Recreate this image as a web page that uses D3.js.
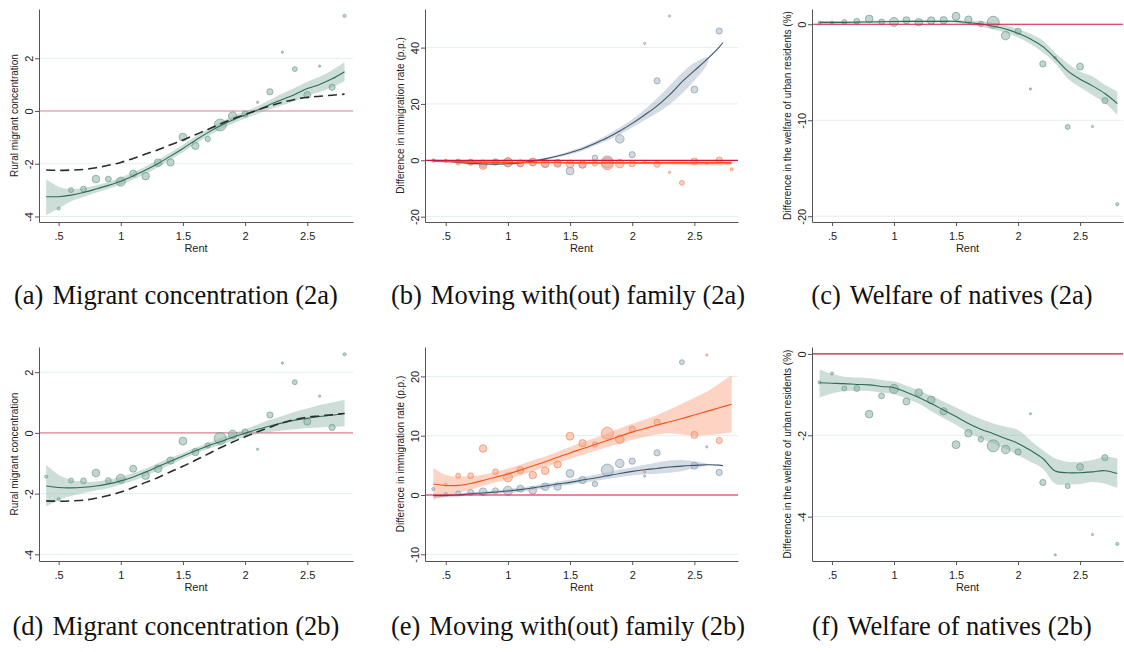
<!DOCTYPE html>
<html>
<head>
<meta charset="utf-8">
<script src="https://cdn.jsdelivr.net/npm/d3@7"></script>
<style>
body { margin: 0; background: #fff; }
svg { display: block; }
text { font-family: "Liberation Sans", Arial, sans-serif; fill: #222; }
.cap { font-family: "Liberation Serif", "Times New Roman", serif; font-size: 26.5px; fill: #111; }
</style>
</head>
<body>
<svg id="fig" width="1124" height="652"></svg>
<script>
// rent levels (x) and number of cities at each level (marker weight)
var rent   = [0.4, 0.5, 0.6, 0.7, 0.8, 0.9, 1.0, 1.1, 1.2, 1.3, 1.4, 1.5, 1.6, 1.7, 1.8, 1.9, 2.0, 2.1, 2.2, 2.3, 2.4, 2.5, 2.6, 2.7, 2.8];
var weight = [2, 2, 5, 7, 12, 7, 17, 10, 12, 12, 11, 13, 11, 6, 30, 15, 8, 1, 8, 1, 5, 10, 1, 8, 2];
var xTicks = [0.5, 1, 1.5, 2, 2.5];
var xTickLabels = ['.5', '1', '1.5', '2', '2.5'];

// benchmark (dashed) used in a and d
var benchmark = [-2.24, -2.25, -2.24, -2.22, -2.15, -2.06, -1.95, -1.80, -1.63, -1.47, -1.28, -1.10, -0.90, -0.70, -0.49, -0.30, -0.13, 0.04, 0.19, 0.33, 0.44, 0.52, 0.56, 0.60, 0.64];

// (a) migrant concentration 2a
var aPts = [null, -3.70, -3.00, -2.96, -2.58, -2.58, -2.68, -2.37, -2.47, -1.96, -1.95, -0.99, -1.32, -1.06, -0.53, -0.19, -0.11, 0.33, 0.73, 2.23, 1.59, 0.61, 1.70, 0.90, 3.61];
var aFit = [-3.25, -3.25, -3.19, -3.09, -2.96, -2.82, -2.66, -2.46, -2.24, -1.99, -1.71, -1.42, -1.11, -0.82, -0.56, -0.34, -0.15, 0.04, 0.25, 0.44, 0.63, 0.85, 1.01, 1.22, 1.49];
var aHi  = [-2.59, -2.87, -2.96, -2.92, -2.82, -2.69, -2.52, -2.32, -2.10, -1.85, -1.57, -1.28, -0.97, -0.68, -0.42, -0.20, -0.02, 0.18, 0.43, 0.66, 0.88, 1.11, 1.30, 1.55, 1.86];
var aLo  = [-3.95, -3.70, -3.42, -3.26, -3.10, -2.95, -2.80, -2.60, -2.38, -2.13, -1.85, -1.56, -1.25, -0.96, -0.70, -0.48, -0.28, -0.10, 0.07, 0.22, 0.38, 0.58, 0.72, 0.90, 1.14];

// (b) moving with(out) family 2a
var bBluePts = [0.0, -0.2, -0.4, -0.7, -1.2, -0.5, -0.7, -1.1, -0.6, -1.2, -0.9, -3.8, -1.5, 0.9, -0.6, 7.6, 2.0, 41.5, 28.2, 51.2, null, 25.1, null, 45.9, null];
var bBlueFitX = [0.4, 0.5, 0.6, 0.7, 0.8, 0.9, 1.0, 1.1, 1.2, 1.3, 1.4, 1.5, 1.6, 1.7, 1.8, 1.9, 2.0, 2.1, 2.2, 2.3, 2.4, 2.5, 2.6, 2.7, 2.73];
var bBlueFit = [0.0, -0.3, -0.7, -1.1, -1.3, -1.35, -1.2, -0.9, -0.3, 0.5, 1.5, 2.7, 4.1, 6.0, 8.0, 10.4, 13.1, 16.1, 19.3, 23.2, 27.8, 31.8, 35.8, 40.2, 41.8];
var bBlueBandX = [0.4, 0.5, 0.6, 0.7, 0.8, 0.9, 1.0, 1.1, 1.2, 1.3, 1.4, 1.5, 1.6, 1.7, 1.8, 1.9, 2.0, 2.1, 2.2, 2.3, 2.4, 2.5, 2.6, 2.62];
var bBlueHi = [0.4, 0.1, -0.3, -0.7, -0.9, -0.9, -0.8, -0.5, 0.1, 0.9, 2.0, 3.3, 4.8, 6.8, 9.0, 11.6, 14.6, 18.0, 22.0, 26.5, 31.0, 34.6, 36.6, 36.3];
var bBlueLo = [-0.4, -0.7, -1.1, -1.5, -1.7, -1.8, -1.6, -1.3, -0.7, 0.1, 1.0, 2.1, 3.4, 5.2, 7.0, 9.2, 11.6, 14.2, 16.8, 19.8, 23.6, 28.2, 33.8, 36.3];
var bOrangePts = [-0.2, -0.2, -0.8, -0.7, -1.9, -0.7, -0.7, -1.1, -0.6, -1.2, -1.2, -1.3, -1.5, -1.1, -1.2, -1.2, -1.2, -0.4, -1.4, -4.3, -8.0, -0.4, -1.1, 0.1, -3.2];
var bOrangeFit = [-0.3, -0.4, -0.5, -0.6, -0.7, -0.7, -0.8, -0.8, -0.8, -0.8, -0.8, -0.9, -0.9, -0.9, -0.9, -0.9, -0.9, -0.9, -0.9, -0.9, -0.9, -0.9, -0.9, -0.9, -0.9];
var bOrangeHi = [0.0, -0.1, -0.2, -0.3, -0.4, -0.4, -0.5, -0.5, -0.5, -0.5, -0.5, -0.6, -0.6, -0.6, -0.6, -0.6, -0.6, -0.5, -0.4, -0.3, -0.2, -0.1, 0.0, 0.0, 0.0];
var bOrangeLo = [-0.6, -0.7, -0.8, -0.9, -1.0, -1.0, -1.1, -1.1, -1.1, -1.1, -1.1, -1.2, -1.2, -1.2, -1.2, -1.2, -1.2, -1.3, -1.4, -1.5, -1.6, -1.7, -1.8, -1.8, -1.8];

// (c) welfare of natives 2a
var cPts = [0.17, 0.17, 0.24, 0.31, 0.56, 0.24, 0.24, 0.42, 0.21, 0.38, 0.42, 0.83, 0.49, 0.03, 0.21, -1.18, -0.73, -6.74, -4.13, -3.47, -10.7, -4.41, -10.66, -7.95, -18.75];
var cFit = [0.2, 0.2, 0.2, 0.22, 0.24, 0.26, 0.28, 0.3, 0.3, 0.3, 0.3, 0.3, 0.17, 0.03, -0.2, -0.49, -0.94, -1.53, -2.33, -3.54, -4.86, -5.73, -6.42, -7.22, -8.26];
var cHi  = [0.35, 0.35, 0.33, 0.34, 0.36, 0.38, 0.40, 0.42, 0.42, 0.42, 0.43, 0.45, 0.40, 0.33, 0.15, -0.1, -0.5, -1.0, -1.7, -3.0, -4.06, -4.93, -5.45, -6.3, -7.0];
var cLo  = [0.05, 0.05, 0.07, 0.10, 0.12, 0.14, 0.16, 0.18, 0.18, 0.18, 0.17, 0.15, -0.06, -0.27, -0.55, -0.88, -1.38, -2.06, -2.95, -4.06, -5.66, -6.56, -7.36, -8.2, -9.44];

// (d) migrant concentration 2b
var dPts = [-1.44, -2.18, -1.57, -1.58, -1.32, -1.57, -1.51, -1.18, -1.41, -1.18, -0.91, -0.27, -0.63, -0.41, -0.18, -0.05, 0.03, -0.54, 0.59, 2.30, 1.67, 0.37, 1.21, 0.18, 2.59];
var dFit = [-1.75, -1.80, -1.81, -1.79, -1.75, -1.68, -1.58, -1.45, -1.29, -1.11, -0.93, -0.76, -0.59, -0.43, -0.29, -0.14, -0.01, 0.12, 0.23, 0.33, 0.42, 0.48, 0.54, 0.58, 0.65];
var dHi  = [-1.05, -1.38, -1.55, -1.60, -1.60, -1.54, -1.45, -1.32, -1.17, -0.99, -0.82, -0.66, -0.49, -0.33, -0.18, -0.02, 0.12, 0.28, 0.43, 0.56, 0.70, 0.80, 0.92, 1.00, 1.09];
var dLo  = [-2.43, -2.21, -2.08, -1.98, -1.90, -1.82, -1.71, -1.58, -1.41, -1.23, -1.04, -0.86, -0.69, -0.53, -0.40, -0.26, -0.14, -0.04, 0.03, 0.08, 0.12, 0.16, 0.18, 0.20, 0.21];

// (e) moving with(out) family 2b
var eBluePts = [1.0, 0.17, 0.28, 0.45, 0.56, 0.73, 0.73, 1.06, 0.78, 1.40, 1.40, 3.64, 2.52, 1.85, 4.2, 5.32, 5.71, 3.19, 7.11, null, 22.4, 4.93, 8.12, 3.81, null];
var eBlueFitX = [0.4, 0.5, 0.6, 0.7, 0.8, 0.9, 1.0, 1.1, 1.2, 1.3, 1.4, 1.5, 1.6, 1.7, 1.8, 1.9, 2.0, 2.1, 2.2, 2.3, 2.4, 2.5, 2.6, 2.7, 2.73];
var eBlueFit = [-0.1, -0.1, 0.0, 0.22, 0.34, 0.5, 0.67, 0.9, 1.18, 1.51, 1.85, 2.13, 2.52, 2.86, 3.25, 3.64, 3.98, 4.26, 4.48, 4.71, 4.87, 4.99, 5.1, 5.04, 4.93];
var eBlueBandX = [0.4, 0.5, 0.6, 0.7, 0.8, 0.9, 1.0, 1.1, 1.2, 1.3, 1.4, 1.5, 1.6, 1.7, 1.8, 1.9, 2.0, 2.1, 2.2, 2.3, 2.4, 2.5, 2.6, 2.62];
var eBlueHi = [0.2, 0.2, 0.3, 0.5, 0.65, 0.8, 1.0, 1.25, 1.55, 1.9, 2.25, 2.6, 3.0, 3.4, 3.85, 4.3, 4.7, 5.1, 5.5, 5.8, 5.9, 5.7, 5.3, 5.1];
var eBlueLo = [-0.4, -0.4, -0.3, -0.06, 0.03, 0.2, 0.34, 0.55, 0.81, 1.12, 1.45, 1.7, 2.05, 2.35, 2.7, 3.0, 3.3, 3.5, 3.6, 3.75, 4.0, 4.5, 4.95, 5.05];
var eOrangePts = [null, 1.74, 3.25, 3.25, 7.84, 3.92, 2.97, 4.20, 3.36, 4.09, 5.15, 9.92, 8.74, 8.52, 10.42, 9.41, 11.09, 3.87, 12.27, null, null, 10.14, 23.6, 9.19, null];
var eOrangeFit = [1.85, 1.6, 1.62, 1.95, 2.45, 3.0, 3.55, 4.2, 4.9, 5.6, 6.35, 7.1, 7.8, 8.5, 9.2, 9.9, 10.6, 11.2, 11.8, 12.35, 12.9, 13.5, 14.1, 14.7, 15.3];
var eOrangeHi = [4.6, 3.36, 3.1, 3.15, 3.42, 3.9, 4.45, 5.1, 5.8, 6.5, 7.3, 8.1, 8.9, 9.6, 10.4, 11.2, 12.0, 12.7, 13.5, 14.4, 15.4, 16.4, 17.4, 18.8, 20.2];
var eOrangeLo = [-0.84, -0.17, 0.39, 0.9, 1.55, 2.1, 2.7, 3.3, 4.0, 4.7, 5.4, 6.1, 6.8, 7.4, 8.1, 8.7, 9.3, 9.8, 10.2, 10.4, 10.2, 10.0, 10.1, 10.3, 10.6];

// (f) welfare of natives 2b
var fPts = [-0.70, -0.48, -0.85, -0.85, -1.48, -1.03, -0.86, -1.17, -0.95, -1.13, -1.41, -2.23, -1.95, -2.10, -2.26, -2.35, -2.41, -1.47, -3.16, -4.94, -3.25, -2.78, -4.44, -2.55, -4.67];
var fFit = [-0.71, -0.72, -0.73, -0.75, -0.76, -0.80, -0.83, -0.94, -1.07, -1.22, -1.38, -1.54, -1.71, -1.85, -1.96, -2.08, -2.20, -2.37, -2.57, -2.88, -2.92, -2.92, -2.90, -2.87, -2.94];
var fHi  = [-0.38, -0.49, -0.56, -0.58, -0.60, -0.64, -0.68, -0.78, -0.89, -1.03, -1.17, -1.32, -1.47, -1.60, -1.71, -1.79, -1.87, -2.12, -2.37, -2.57, -2.65, -2.65, -2.61, -2.53, -2.57];
var fLo  = [-1.07, -0.97, -0.91, -0.91, -0.91, -0.95, -0.99, -1.10, -1.22, -1.41, -1.58, -1.74, -1.93, -2.08, -2.20, -2.34, -2.49, -2.65, -2.82, -3.19, -3.21, -3.20, -3.15, -3.19, -3.29];

var yTitleMig = 'Rural migrant concentration';
var yTitleImm = 'Difference in immigration rate (p.p.)';
var yTitleWel = 'Difference in the welfare of urban residents (%)';

var green  = { fill: '#8fb5a7', stroke: '#6c9a8a', band: '#8fb5a7', line: '#2d6a5a' };
var blue   = { fill: '#a9b8c7', stroke: '#8497aa', band: '#9fb0c2', line: '#3b5670' };
var orange = { fill: '#f9a583', stroke: '#f08660', band: '#fb9d7a', line: '#f2541b' };

var svg = d3.select('#fig');
var rad = d3.scaleSqrt().domain([0, 30]).range([0, 6]);

function drawPanel(p) {
  var x = d3.scaleLinear().domain(p.xd).range([p.l, p.r]);
  var y = d3.scaleLinear().domain(p.yd).range([p.b, p.t]);
  var g = svg.append('g');

  g.selectAll('line.grid')
    .data(p.yticks.filter(function(v) { return v !== 0; }))
    .enter().append('line')
    .attr('class', 'grid')
    .attr('x1', p.l).attr('x2', p.r)
    .attr('y1', function(d) { return y(d); })
    .attr('y2', function(d) { return y(d); })
    .attr('stroke', '#e4eef0').attr('stroke-width', 1);

  function zero() {
    g.append('line')
      .attr('x1', p.l).attr('x2', p.r).attr('y1', y(0)).attr('y2', y(0))
      .attr('stroke', p.zero).attr('stroke-width', 1.2);
  }
  if (!p.zeroTop) zero();

  p.series.forEach(function(s) {
    var bx = s.bandX || rent;
    var area = d3.area()
      .x(function(d, i) { return x(bx[i]); })
      .y0(function(d, i) { return y(s.lo[i]); })
      .y1(function(d) { return y(d); })
      .curve(d3.curveCatmullRom);
    g.append('path').datum(s.hi)
      .attr('d', area)
      .attr('fill', s.col.band).attr('fill-opacity', 0.45);
  });

  p.series.forEach(function(s) {
    var pts = rent.map(function(v, i) { return { x: v, y: s.pts[i], w: weight[i] }; })
      .filter(function(d) { return d.y !== null; });
    g.selectAll(null).data(pts).enter().append('circle')
      .attr('cx', function(d) { return x(d.x); })
      .attr('cy', function(d) { return y(d.y); })
      .attr('r', function(d) { return rad(d.w); })
      .attr('fill', s.col.fill).attr('fill-opacity', 0.55)
      .attr('stroke', s.col.stroke).attr('stroke-width', 0.8).attr('stroke-opacity', 0.85);
  });

  p.series.forEach(function(s) {
    var fx = s.fitX || rent;
    var line = d3.line()
      .x(function(d, i) { return x(fx[i]); })
      .y(function(d) { return y(d); })
      .curve(d3.curveCatmullRom);
    g.append('path').datum(s.fit)
      .attr('d', line)
      .attr('fill', 'none').attr('stroke', s.col.line).attr('stroke-width', s.lw || 1.1);
  });

  if (p.dashed) {
    var dl = d3.line()
      .x(function(d, i) { return x(rent[i]); })
      .y(function(d) { return y(d); })
      .curve(d3.curveCatmullRom);
    g.append('path').datum(p.dashed)
      .attr('d', dl)
      .attr('fill', 'none').attr('stroke', '#2b2b2b')
      .attr('stroke-width', 1.6).attr('stroke-dasharray', '9,5');
  }

  if (p.zeroTop) zero();

  var xa = g.append('g')
    .attr('transform', 'translate(0,' + p.b + ')')
    .call(d3.axisBottom(x).tickValues(xTicks)
      .tickFormat(function(d, i) { return xTickLabels[i]; })
      .tickSize(4).tickSizeOuter(0).tickPadding(6));
  var ya = g.append('g')
    .attr('transform', 'translate(' + p.l + ',0)')
    .call(d3.axisLeft(y).tickValues(p.yticks)
      .tickFormat(function(d) { return String(d); })
      .tickSize(4).tickSizeOuter(0));
  ya.selectAll('.tick text')
    .attr('x', null).attr('dy', null)
    .attr('text-anchor', 'middle')
    .attr('transform', 'translate(-6.5,0) rotate(-90)');
  [xa, ya].forEach(function(a) {
    a.select('.domain').attr('stroke', '#555');
    a.selectAll('.tick line').attr('stroke', '#555');
    a.selectAll('.tick text').attr('fill', '#222').style('font-size', '11px')
      .style('font-family', '"Liberation Sans", Arial, sans-serif');
  });

  g.append('text')
    .attr('x', (p.l + p.r) / 2).attr('y', p.b + 30)
    .attr('text-anchor', 'middle').style('font-size', '11px')
    .text('Rent');
  g.append('text')
    .attr('transform', 'translate(' + (p.l - 21.5) + ',' + ((p.t + p.b) / 2) + ') rotate(-90)')
    .attr('text-anchor', 'middle').style('font-size', '10px')
    .text(p.ytitle);

  var cap = svg.append('text').attr('class', 'cap')
    .attr('x', p.capX).attr('y', p.capY).attr('text-anchor', 'middle');
  cap.append('tspan').text(p.cap[0]);
  cap.append('tspan').attr('dx', 9).text(p.cap[1]);
}

var row1 = { t: 9, b: 222 }, row2 = { t: 347, b: 561 };
var col1 = { l: 39, r: 353, xd: [0.342, 2.868], capX: 176 };
var col2 = { l: 425, r: 738, xd: [0.333, 2.851], capX: 568 };
var col3 = { l: 812, r: 1123, xd: [0.339, 2.846], capX: 952 };
var pink = '#dc7f93', crimson = '#d6103a';

function make(col, row, extra) {
  return Object.assign({ l: col.l, r: col.r, xd: col.xd, capX: col.capX, t: row.t, b: row.b }, extra);
}

drawPanel(make(col1, row1, {
  yd: [-4.21, 3.87], yticks: [-4, -2, 0, 2], ytitle: yTitleMig, zero: pink,
  series: [{ pts: aPts, fit: aFit, hi: aHi, lo: aLo, col: green }],
  dashed: benchmark, cap: ['(a)', 'Migrant concentration (2a)'], capY: 304
}));
drawPanel(make(col2, row1, {
  yd: [-21.9, 53.7], yticks: [-20, 0, 20, 40], ytitle: yTitleImm, zero: crimson, zeroTop: true,
  series: [
    { pts: bBluePts, fit: bBlueFit, fitX: bBlueFitX, hi: bBlueHi, lo: bBlueLo, bandX: bBlueBandX, col: blue },
    { pts: bOrangePts, fit: bOrangeFit, hi: bOrangeHi, lo: bOrangeLo, col: orange, lw: 1.6 }
  ],
  cap: ['(b)', 'Moving with(out) family (2a)'], capY: 304
}));
drawPanel(make(col3, row1, {
  yd: [-20.6, 1.59], yticks: [-20, -10, 0], ytitle: yTitleWel, zero: crimson, zeroTop: true,
  series: [{ pts: cPts, fit: cFit, hi: cHi, lo: cLo, col: green }],
  cap: ['(c)', 'Welfare of natives (2a)'], capY: 304
}));
drawPanel(make(col1, row2, {
  yd: [-4.22, 2.83], yticks: [-4, -2, 0, 2], ytitle: yTitleMig, zero: pink,
  series: [{ pts: dPts, fit: dFit, hi: dHi, lo: dLo, col: green }],
  dashed: benchmark, cap: ['(d)', 'Migrant concentration (2b)'], capY: 635
}));
drawPanel(make(col2, row2, {
  yd: [-11.13, 24.96], yticks: [-10, 0, 10, 20], ytitle: yTitleImm, zero: crimson, zeroTop: true,
  series: [
    { pts: eBluePts, fit: eBlueFit, fitX: eBlueFitX, hi: eBlueHi, lo: eBlueLo, bandX: eBlueBandX, col: blue },
    { pts: eOrangePts, fit: eOrangeFit, hi: eOrangeHi, lo: eOrangeLo, col: orange }
  ],
  cap: ['(e)', 'Moving with(out) family (2b)'], capY: 635
}));
drawPanel(make(col3, row2, {
  yd: [-5.09, 0.17], yticks: [-4, -2, 0], ytitle: yTitleWel, zero: crimson, zeroTop: true,
  series: [{ pts: fPts, fit: fFit, hi: fHi, lo: fLo, col: green }],
  cap: ['(f)', 'Welfare of natives (2b)'], capY: 635
}));
</script>
</body>
</html>
